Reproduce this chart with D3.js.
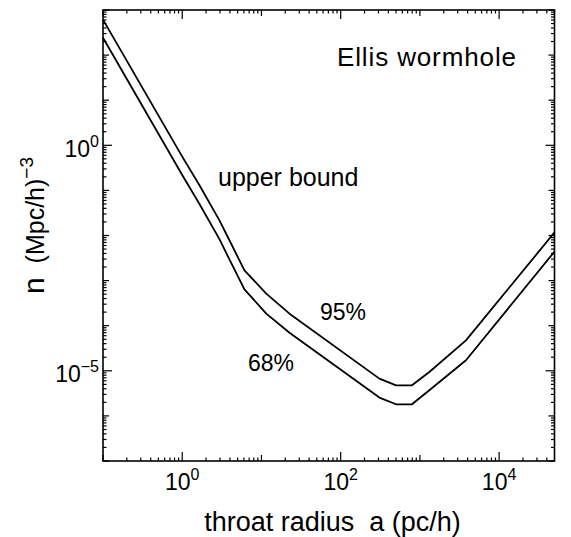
<!DOCTYPE html>
<html>
<head>
<meta charset="utf-8">
<script src="https://cdn.jsdelivr.net/npm/d3@7"></script>
<style>
  html, body { margin: 0; padding: 0; background: #fff; }
  svg { display: block; }
  text { font-family: "Liberation Sans", Arial, Helvetica, sans-serif; fill: #000; }
</style>
</head>
<body>
<svg id="chart" width="571" height="537"></svg>
<script>
// ---- data ----
const upperX = [0.1, 1.0, 1.65, 2.95, 3.76, 6.1, 11.5, 22.6, 308, 500, 795, 1315, 3815, 50000];
const upperY = [612, 0.56, 0.13, 0.0217, 0.00926, 0.00169, 5.15e-4, 1.85e-4, 6.7e-6, 4.77e-6, 4.77e-6, 9.4e-6, 4.74e-5, 0.0117];
const lowerX = [0.1, 1.0, 1.65, 2.95, 3.76, 6.1, 11.5, 22.6, 308, 500, 795, 1315, 3815, 50000];
const lowerY = [242, 0.22, 0.050, 0.0083, 0.0035, 6.4e-4, 1.85e-4, 7.0e-5, 2.55e-6, 1.81e-6, 1.81e-6, 3.7e-6, 1.71e-5, 0.0044];

const xDomain = [0.1, 5e4];
const yDomain = [1e-7, 1e3];
const xLabelExps = [0, 2, 4];
const yLabelExps = [0, -5];

const title = "Ellis wormhole";
const subTitle = "upper bound";
const seriesLabels = ["95%", "68%"];
const xAxisTitle = "throat radius  a (pc/h)";

// ---- layout ----
const svg = d3.select("#chart");
const L = 103, R = 554.5, T = 10, B = 461;
const x = d3.scaleLog().domain(xDomain).range([L, R]);
const y = d3.scaleLog().domain(yDomain).range([B, T]);

// ---- ticks (all four sides, inward) ----
const tickG = svg.append("g").attr("stroke", "#000").attr("stroke-width", 1.2);
function tickList(domain) {
  const out = [];
  const e0 = Math.floor(Math.log10(domain[0])), e1 = Math.ceil(Math.log10(domain[1]));
  for (let e = e0; e <= e1; e++) {
    for (let m = 1; m <= 9; m++) {
      const v = m * Math.pow(10, e);
      if (v >= domain[0] * 0.9999 && v <= domain[1] * 1.0001) out.push({ v, e, m });
    }
  }
  return out;
}
tickList(xDomain).forEach(t => {
  const len = t.m !== 1 ? 3.5 : (xLabelExps.includes(t.e) ? 9 : 6);
  const px = x(t.v);
  tickG.append("line").attr("x1", px).attr("x2", px).attr("y1", B).attr("y2", B - len);
  tickG.append("line").attr("x1", px).attr("x2", px).attr("y1", T).attr("y2", T + len);
});
tickList(yDomain).forEach(t => {
  const len = t.m !== 1 ? 3.5 : (yLabelExps.includes(t.e) ? 9 : 6);
  const py = y(t.v);
  tickG.append("line").attr("y1", py).attr("y2", py).attr("x1", L).attr("x2", L + len);
  tickG.append("line").attr("y1", py).attr("y2", py).attr("x1", R).attr("x2", R - len);
});

// ---- frame ----
svg.append("rect").attr("x", L).attr("y", T).attr("width", R - L).attr("height", B - T)
  .attr("fill", "none").attr("stroke", "#000").attr("stroke-width", 1.6);

// ---- tick labels ----
xLabelExps.forEach(e => {
  const t = svg.append("text").attr("x", x(Math.pow(10, e))).attr("y", 490)
    .attr("text-anchor", "middle").attr("font-size", 23);
  t.append("tspan").text("10");
  t.append("tspan").attr("font-size", 16).attr("dy", -10).text(String(e).replace("-", "\u2212"));
});
yLabelExps.forEach(e => {
  const t = svg.append("text").attr("x", 99).attr("y", y(Math.pow(10, e)) + 11.5)
    .attr("text-anchor", "end").attr("font-size", 23);
  t.append("tspan").text("10");
  t.append("tspan").attr("font-size", 16).attr("dy", -10).text(String(e).replace("-", "\u2212"));
});

// ---- curves ----
const line = d3.line().x(d => x(d[0])).y(d => y(d[1]));
const plotG = svg.append("g");
plotG.append("path").datum(upperX.map((v, i) => [v, upperY[i]]))
  .attr("d", line).attr("fill", "none").attr("stroke", "#000").attr("stroke-width", 1.8)
  .attr("stroke-linejoin", "round");
plotG.append("path").datum(lowerX.map((v, i) => [v, lowerY[i]]))
  .attr("d", line).attr("fill", "none").attr("stroke", "#000").attr("stroke-width", 1.8)
  .attr("stroke-linejoin", "round");

// ---- annotations ----
svg.append("text").attr("x", 337).attr("y", 66).attr("font-size", 26)
  .attr("textLength", 179).attr("lengthAdjust", "spacing").text(title);
svg.append("text").attr("x", 218).attr("y", 186).attr("font-size", 25).text(subTitle);
svg.append("text").attr("x", 320).attr("y", 320).attr("font-size", 23).text(seriesLabels[0]);
svg.append("text").attr("x", 248).attr("y", 371).attr("font-size", 23).text(seriesLabels[1]);

// ---- axis titles ----
svg.append("text").attr("x", 332.5).attr("y", 531).attr("text-anchor", "middle")
  .attr("font-size", 27).style("white-space", "pre").text(xAxisTitle);

const yt = svg.append("text").attr("transform", "translate(44,294) rotate(-90)")
  .attr("font-size", 25).style("white-space", "pre");
yt.append("tspan").attr("font-size", 30).text("n");
yt.append("tspan").text("  (Mpc/h)");
yt.append("tspan").attr("font-size", 19).attr("dy", -11).text("\u22123");
</script>
</body>
</html>
